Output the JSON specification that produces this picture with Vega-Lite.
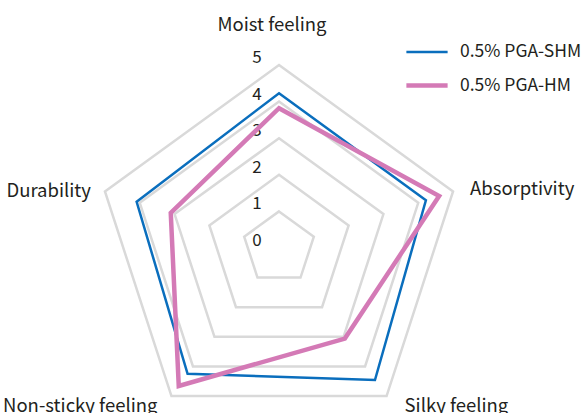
{
  "$schema": "https://vega.github.io/schema/vega-lite/v6.json",
  "width": 581,
  "height": 413,
  "padding": 0,
  "autosize": "none",
  "background": "white",
  "config": {
    "view": {"stroke": null},
    "font": "Noto Sans CJK JP",
    "legend": {
      "orient": "none",
      "legendX": 404,
      "legendY": 30,
      "symbolType": "stroke",
      "symbolSize": 1700,
      "labelFontSize": 17.5,
      "labelColor": "#231f20",
      "labelFont": "Noto Sans CJK JP",
      "labelOffset": 10,
      "labelLimit": 200,
      "rowPadding": 1.5
    }
  },
  "datasets": {
    "scores": [
      {"series": "0.5% PGA-SHM", "attribute": "Moist feeling", "value": 4.23},
      {"series": "0.5% PGA-SHM", "attribute": "Absorptivity", "value": 4.22},
      {"series": "0.5% PGA-SHM", "attribute": "Silky feeling", "value": 4.46},
      {"series": "0.5% PGA-SHM", "attribute": "Non-sticky feeling", "value": 4.25},
      {"series": "0.5% PGA-SHM", "attribute": "Durability", "value": 4.09},
      {"series": "0.5% PGA-HM", "attribute": "Moist feeling", "value": 3.82},
      {"series": "0.5% PGA-HM", "attribute": "Absorptivity", "value": 4.6},
      {"series": "0.5% PGA-HM", "attribute": "Silky feeling", "value": 3.06},
      {"series": "0.5% PGA-HM", "attribute": "Non-sticky feeling", "value": 4.66},
      {"series": "0.5% PGA-HM", "attribute": "Durability", "value": 3.11}
    ],
    "ticks": [
      {"tick": 0}, {"tick": 1}, {"tick": 2}, {"tick": 3}, {"tick": 4}, {"tick": 5}
    ]
  },
  "layer": [
    {
      "data": {"name": "scores"},
      "transform": [
        {"filter": "datum.series == '0.5% PGA-SHM'"},
        {"calculate": "[1,2,3,4,5]", "as": "level"},
        {"flatten": ["level"]},
        {"calculate": "indexof(['Moist feeling','Absorptivity','Silky feeling','Non-sticky feeling','Durability'], datum.attribute)", "as": "idx"},
        {"calculate": "datum.idx * 2 * PI / 5", "as": "ang"},
        {"calculate": "datum.level * sin(datum.ang)", "as": "px"},
        {"calculate": "datum.level * cos(datum.ang)", "as": "py"}
      ],
      "mark": {"type": "line", "interpolate": "linear-closed", "stroke": "#d9d9d9", "strokeWidth": 2.5},
      "encoding": {
        "x": {"field": "px", "type": "quantitative", "scale": {"domain": [-7.623, 8.251], "nice": false, "zero": false}, "axis": null},
        "y": {"field": "py", "type": "quantitative", "scale": {"domain": [-4.508, 6.776], "nice": false, "zero": false}, "axis": null},
        "detail": {"field": "level", "type": "nominal"},
        "order": {"field": "idx", "type": "quantitative"}
      }
    },
    {
      "data": {"name": "ticks"},
      "transform": [
        {"calculate": "0", "as": "px"},
        {"calculate": "datum.tick", "as": "py"}
      ],
      "mark": {"type": "text", "align": "center", "baseline": "alphabetic", "dx": -22, "dy": -2, "fontSize": 17, "color": "#231f20", "font": "Noto Sans CJK JP"},
      "encoding": {
        "x": {"field": "px", "type": "quantitative", "scale": {"domain": [-7.623, 8.251], "nice": false, "zero": false}, "axis": null},
        "y": {"field": "py", "type": "quantitative", "scale": {"domain": [-4.508, 6.776], "nice": false, "zero": false}, "axis": null},
        "text": {"field": "tick", "type": "quantitative"}
      }
    },
    {
      "data": {"name": "scores"},
      "transform": [
        {"filter": "datum.series == '0.5% PGA-SHM'"},
        {"calculate": "indexof(['Moist feeling','Absorptivity','Silky feeling','Non-sticky feeling','Durability'], datum.attribute)", "as": "idx"},
        {"calculate": "datum.idx * 2 * PI / 5", "as": "ang"},
        {"calculate": "5 * sin(datum.ang)", "as": "px"},
        {"calculate": "5 * cos(datum.ang)", "as": "py"}
      ],
      "layer": [
        {
          "transform": [{"filter": "datum.attribute == 'Moist feeling'"}],
          "mark": {"type": "text", "align": "center", "baseline": "alphabetic", "dx": -7, "dy": -34, "fontSize": 18.5, "color": "#231f20", "font": "Noto Sans CJK JP"}
        },
        {
          "transform": [{"filter": "datum.attribute == 'Absorptivity'"}],
          "mark": {"type": "text", "align": "left", "baseline": "alphabetic", "dx": 17, "dy": 3.5, "fontSize": 18.5, "color": "#231f20", "font": "Noto Sans CJK JP"}
        },
        {
          "transform": [{"filter": "datum.attribute == 'Silky feeling'"}],
          "mark": {"type": "text", "align": "left", "baseline": "alphabetic", "dx": 18, "dy": 16, "fontSize": 18.5, "color": "#231f20", "font": "Noto Sans CJK JP"}
        },
        {
          "transform": [{"filter": "datum.attribute == 'Non-sticky feeling'"}],
          "mark": {"type": "text", "align": "right", "baseline": "alphabetic", "dx": -14, "dy": 16, "fontSize": 18.5, "color": "#231f20", "font": "Noto Sans CJK JP"}
        },
        {
          "transform": [{"filter": "datum.attribute == 'Durability'"}],
          "mark": {"type": "text", "align": "right", "baseline": "alphabetic", "dx": -14, "dy": 5.5, "fontSize": 18.5, "color": "#231f20", "font": "Noto Sans CJK JP"}
        }
      ],
      "encoding": {
        "x": {"field": "px", "type": "quantitative", "scale": {"domain": [-7.623, 8.251], "nice": false, "zero": false}, "axis": null},
        "y": {"field": "py", "type": "quantitative", "scale": {"domain": [-4.508, 6.776], "nice": false, "zero": false}, "axis": null},
        "text": {"field": "attribute", "type": "nominal"}
      }
    },
    {
      "data": {"name": "scores"},
      "transform": [
        {"calculate": "indexof(['Moist feeling','Absorptivity','Silky feeling','Non-sticky feeling','Durability'], datum.attribute)", "as": "idx"},
        {"calculate": "datum.idx * 2 * PI / 5", "as": "ang"},
        {"calculate": "datum.value * sin(datum.ang)", "as": "px"},
        {"calculate": "datum.value * cos(datum.ang)", "as": "py"}
      ],
      "layer": [
        {"transform": [{"filter": "datum.series == '0.5% PGA-SHM'"}], "mark": {"type": "line", "interpolate": "linear-closed"}},
        {"transform": [{"filter": "datum.series == '0.5% PGA-HM'"}], "mark": {"type": "line", "interpolate": "linear-closed"}}
      ],
      "encoding": {
        "x": {"field": "px", "type": "quantitative", "scale": {"domain": [-7.623, 8.251], "nice": false, "zero": false}, "axis": null},
        "y": {"field": "py", "type": "quantitative", "scale": {"domain": [-4.508, 6.776], "nice": false, "zero": false}, "axis": null},
        "order": {"field": "idx", "type": "quantitative"},
        "color": {"field": "series", "type": "nominal", "scale": {"domain": ["0.5% PGA-SHM", "0.5% PGA-HM"], "range": ["#0a6ebd", "#d47ab6"]}, "title": null},
        "strokeWidth": {"field": "series", "type": "nominal", "scale": {"domain": ["0.5% PGA-SHM", "0.5% PGA-HM"], "range": [2.5, 4.5]}, "title": null}
      }
    }
  ]
}
